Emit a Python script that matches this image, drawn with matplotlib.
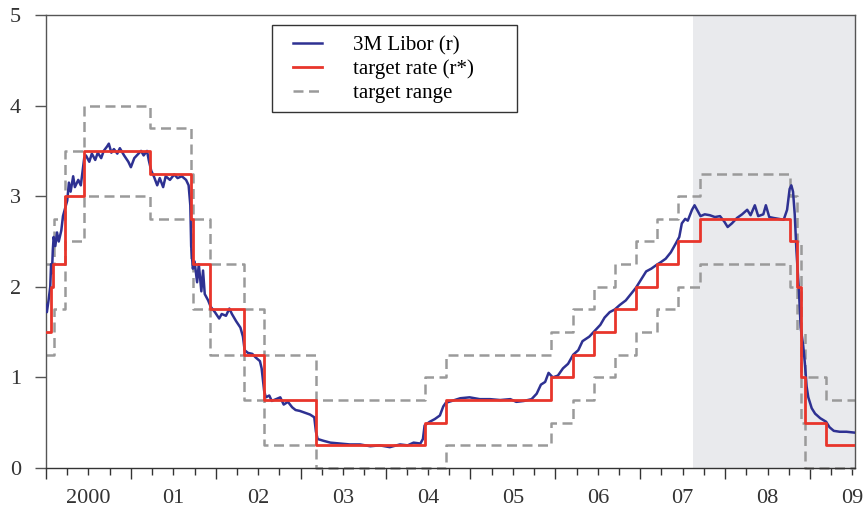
import matplotlib
matplotlib.use("Agg")
import matplotlib.pyplot as plt
from matplotlib.ticker import FixedLocator
from matplotlib.patches import Rectangle

plt.rcParams['font.family'] = ['Liberation Serif', 'DejaVu Serif']

# 3M Libor (decimal year, percent)
libor_t = [2000.00, 2000.01, 2000.03, 2000.05, 2000.06, 2000.07, 2000.08, 2000.09, 2000.11, 2000.13,
           2000.15, 2000.18, 2000.20, 2000.22, 2000.25, 2000.27, 2000.29, 2000.32, 2000.34, 2000.38,
           2000.41, 2000.45, 2000.47, 2000.51, 2000.54, 2000.58, 2000.61, 2000.65, 2000.68, 2000.72,
           2000.74, 2000.77, 2000.80, 2000.84, 2000.87, 2000.92, 2000.97, 2001.00, 2001.04, 2001.08,
           2001.12, 2001.15, 2001.19, 2001.21, 2001.24, 2001.27, 2001.31, 2001.34, 2001.38, 2001.41,
           2001.46, 2001.51, 2001.55, 2001.60, 2001.65, 2001.68, 2001.70, 2001.71, 2001.73, 2001.75,
           2001.78, 2001.80, 2001.83, 2001.85, 2001.87, 2001.91, 2001.94, 2001.99, 2002.04, 2002.07,
           2002.12, 2002.16, 2002.19, 2002.24, 2002.29, 2002.32, 2002.34, 2002.38, 2002.43, 2002.47,
           2002.52, 2002.54, 2002.57, 2002.59, 2002.63, 2002.66, 2002.71, 2002.76, 2002.80, 2002.85,
           2002.90, 2002.94, 2002.99, 2003.05, 2003.11, 2003.16, 2003.18, 2003.20, 2003.27, 2003.35,
           2003.46, 2003.58, 2003.70, 2003.82, 2003.93, 2004.05, 2004.17, 2004.26, 2004.33, 2004.41,
           2004.44, 2004.46, 2004.52, 2004.58, 2004.64, 2004.68, 2004.71, 2004.78, 2004.88, 2004.99,
           2005.11, 2005.23, 2005.35, 2005.47, 2005.54, 2005.63, 2005.72, 2005.78, 2005.83, 2005.88,
           2005.92, 2005.97, 2006.03, 2006.09, 2006.15, 2006.21, 2006.27, 2006.32, 2006.40, 2006.47,
           2006.53, 2006.58, 2006.64, 2006.70, 2006.76, 2006.83, 2006.89, 2006.95, 2007.01, 2007.07,
           2007.13, 2007.19, 2007.24, 2007.30, 2007.36, 2007.42, 2007.46, 2007.49, 2007.53, 2007.56,
           2007.61, 2007.64, 2007.68, 2007.71, 2007.76, 2007.82, 2007.88, 2007.94, 2007.99, 2008.03,
           2008.08, 2008.14, 2008.20, 2008.26, 2008.30, 2008.35, 2008.39, 2008.45, 2008.48, 2008.52,
           2008.57, 2008.63, 2008.69, 2008.73, 2008.76, 2008.78, 2008.80, 2008.82, 2008.84, 2008.87,
           2008.89, 2008.92, 2008.94, 2008.96, 2008.98, 2009.02, 2009.06, 2009.12, 2009.19, 2009.23,
           2009.28, 2009.35, 2009.43, 2009.53]
libor = [1.80, 1.72, 1.85, 2.00, 2.25, 2.15, 2.40, 2.55, 2.45, 2.60,
         2.50, 2.62, 2.78, 2.85, 2.95, 3.15, 3.05, 3.22, 3.10, 3.18,
         3.12, 3.42, 3.45, 3.38, 3.47, 3.40, 3.48, 3.42, 3.50, 3.55,
         3.58, 3.48, 3.52, 3.47, 3.53, 3.45, 3.38, 3.32, 3.42, 3.46,
         3.50, 3.45, 3.50, 3.40, 3.28, 3.22, 3.12, 3.20, 3.10, 3.22,
         3.18, 3.24, 3.20, 3.22, 3.18, 3.12, 2.90, 2.45, 2.20, 2.28,
         2.05, 2.25, 1.95, 2.18, 1.92, 1.85, 1.78, 1.72, 1.65, 1.70,
         1.68, 1.76, 1.70, 1.62, 1.55, 1.45, 1.30, 1.27, 1.26, 1.22,
         1.18, 1.10, 0.85, 0.78, 0.80, 0.74, 0.76, 0.78, 0.70, 0.73,
         0.67, 0.64, 0.63, 0.61, 0.59, 0.56, 0.40, 0.32, 0.30, 0.28,
         0.27, 0.26, 0.26, 0.24, 0.25, 0.23, 0.26, 0.25, 0.28, 0.27,
         0.32, 0.47, 0.51, 0.54, 0.58, 0.68, 0.72, 0.74, 0.77, 0.78,
         0.76, 0.76, 0.75, 0.76, 0.73, 0.74, 0.76, 0.82, 0.92, 0.95,
         1.05, 1.00, 1.02, 1.10, 1.15, 1.25, 1.30, 1.40, 1.45, 1.52,
         1.58, 1.66, 1.72, 1.75, 1.80, 1.85, 1.92, 1.99, 2.08, 2.17,
         2.20, 2.24, 2.27, 2.31, 2.38, 2.48, 2.55, 2.70, 2.75, 2.73,
         2.85, 2.90, 2.83, 2.78, 2.80, 2.79, 2.77, 2.78, 2.72, 2.66,
         2.70, 2.76, 2.80, 2.85, 2.79, 2.90, 2.78, 2.80, 2.90, 2.77,
         2.76, 2.75, 2.74, 2.85, 3.08, 3.12, 3.05, 2.80, 2.40, 1.95,
         1.55, 1.35, 1.15, 0.90, 0.78, 0.66, 0.60, 0.55, 0.51, 0.45,
         0.41, 0.40, 0.40, 0.39]

# target rate r*: start of each step
rstar_t = [2000.0, 2000.055, 2000.085, 2000.22, 2000.45, 2001.22, 2001.71, 2001.73, 2001.93,
           2002.33, 2002.57, 2003.18, 2004.46, 2004.71, 2005.95, 2006.205, 2006.455, 2006.70,
           2006.95, 2007.20, 2007.45, 2007.70, 2008.77, 2008.85, 2008.89, 2008.945, 2009.19]
rstar = [1.5, 2.0, 2.25, 3.0, 3.5, 3.25, 2.75, 2.25, 1.75,
         1.25, 0.75, 0.25, 0.5, 0.75, 1.0, 1.25, 1.5, 1.75,
         2.0, 2.25, 2.5, 2.75, 2.5, 2.0, 1.0, 0.5, 0.25]

# target range
range_t = [2000.0, 2000.09, 2000.22, 2000.45, 2001.22, 2001.71, 2001.73, 2001.93, 2002.33,
           2002.57, 2003.18, 2004.46, 2004.71, 2005.95, 2006.205, 2006.455, 2006.70, 2006.95,
           2007.20, 2007.45, 2007.70, 2008.77, 2008.85, 2008.89, 2008.945, 2009.19]
upper = [2.25, 2.75, 3.5, 4.0, 3.75, 3.25, 2.75, 2.25, 1.75,
         1.25, 0.75, 1.0, 1.25, 1.5, 1.75, 2.0, 2.25, 2.5,
         2.75, 3.0, 3.25, 3.0, 2.5, 1.5, 1.0, 0.75]
lower = [1.25, 1.75, 2.5, 3.0, 2.75, 2.25, 1.75, 1.25, 0.75,
         0.25, 0.0, 0.0, 0.25, 0.5, 0.75, 1.0, 1.25, 1.5,
         1.75, 2.0, 2.25, 2.0, 1.5, 0.5, 0.0, 0.0]

crisis_start = 2007.62
t_end = 2009.53
years = list(range(2000, 2010))
year_labels = ['2000', '01', '02', '03', '04', '05', '06', '07', '08', '09']

blue = '#2e3192'
red = '#e8352b'
grey = '#9a9a9a'

fig = plt.figure(figsize=(8.67, 5.12), dpi=100)
ax = fig.add_axes([46 / 867, 1 - 468 / 512, 809 / 867, 453 / 512])

ax.axvspan(crisis_start, t_end, color='#e9eaed', zorder=0, lw=0)

dash_kw = dict(color=grey, lw=1.8, dashes=(4, 2.2), where='post', clip_on=False, zorder=2)
ax.step(range_t + [t_end], upper + [upper[-1]], label='target range', **dash_kw)
ax.step(range_t + [t_end], lower + [lower[-1]], **dash_kw)

ax.plot(libor_t, libor, color=blue, lw=1.8, zorder=3, label='3M Libor (r)')
ax.step(rstar_t + [t_end], rstar + [rstar[-1]], where='post', color=red, lw=2.0,
        zorder=4, label='target rate (r*)')

ax.set_xlim(2000, t_end)
ax.set_ylim(0, 5)

for s in ax.spines.values():
    s.set_color('#555555')
    s.set_linewidth(1.0)
ax.spines['bottom'].set_color('#333333')

ax.set_yticks([0, 1, 2, 3, 4, 5])
ax.tick_params(axis='y', length=8, width=1, color='#555555', pad=10,
               labelsize=16, labelcolor='#333333')

ax.xaxis.set_major_locator(FixedLocator(years))
quarters = [y + q / 4 for y in years for q in (1, 2, 3) if y + q / 4 < t_end]
ax.xaxis.set_minor_locator(FixedLocator(quarters))
ax.tick_params(axis='x', which='major', length=8, width=1, color='#333333', labelbottom=False)
ax.tick_params(axis='x', which='minor', length=5, width=1, color='#333333')

for y, lab in zip(years, year_labels):
    ax.text(y + 0.5, -0.068, lab, transform=ax.get_xaxis_transform(),
            ha='center', va='center', fontsize=16, color='#333333')

# legend box drawn separately so the padding matches
ax.add_patch(Rectangle((0.2794, 0.786), 0.3028, 0.192, transform=ax.transAxes,
                       facecolor='white', edgecolor='#333333', lw=1.0, zorder=5))
h, l = ax.get_legend_handles_labels()
order = [1, 2, 0]
leg = ax.legend([h[i] for i in order], [l[i] for i in order],
                loc='upper left', bbox_to_anchor=(0.3053, 0.954),
                borderaxespad=0, frameon=False, borderpad=0,
                fontsize=15, handlelength=1.4, handletextpad=1.5,
                labelspacing=0.2)
leg.set_zorder(6)

fig.savefig('out.png', dpi=100)
